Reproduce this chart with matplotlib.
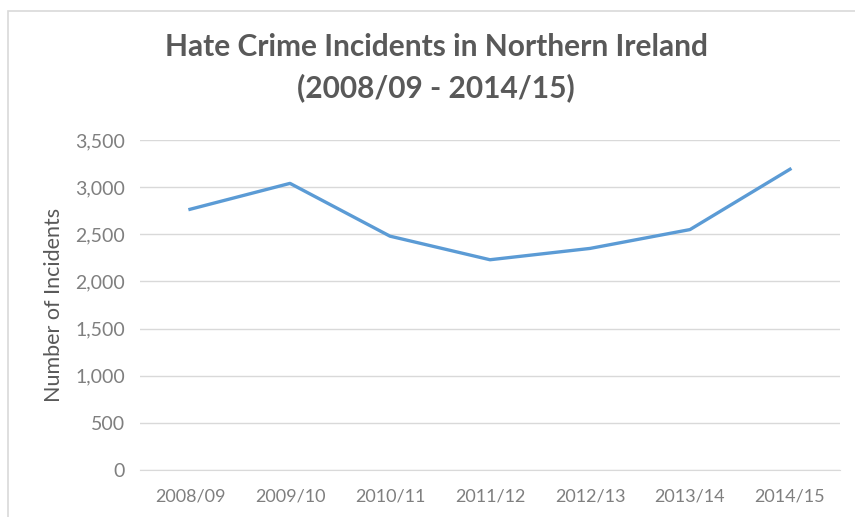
import matplotlib as mpl
mpl.use('Agg')

import matplotlib.pyplot as plt
from matplotlib.ticker import FuncFormatter, MultipleLocator
from matplotlib.patches import Rectangle

# Data
years = ['2008/09', '2009/10', '2010/11', '2011/12', '2012/13', '2013/14', '2014/15']
incidents = [2765, 3040, 2480, 2230, 2350, 2550, 3190]

line_color = '#5B9BD5'
text_color = '#595959'
tick_color = '#7F7F7F'
grid_color = '#D9D9D9'

plt.rcParams['font.family'] = ['Lato', 'DejaVu Sans']

fig = plt.figure(figsize=(8.55, 5.17), dpi=100)
ax = fig.add_axes([140 / 855, 1 - 470 / 517, 700 / 855, 330 / 517])

x = range(len(years))
ax.plot(x, incidents, color=line_color, linewidth=2.4, solid_joinstyle='round')

ax.set_xlim(-0.5, len(years) - 0.5)
ax.set_ylim(0, 3500)
ax.yaxis.set_major_locator(MultipleLocator(500))
ax.yaxis.set_major_formatter(FuncFormatter(lambda v, p: '{:,.0f}'.format(v)))
ax.set_xticks(list(x))
ax.set_xticklabels(years)

ax.grid(axis='y', color=grid_color, linewidth=1)
ax.set_axisbelow(True)
for side in ['top', 'right', 'left']:
    ax.spines[side].set_visible(False)
ax.spines['bottom'].set_color(grid_color)
ax.tick_params(axis='both', length=0, colors=tick_color)
ax.tick_params(axis='x', pad=13, labelsize=13)
ax.tick_params(axis='y', pad=11, labelsize=14)

ax.set_ylabel('Number of Incidents', color=text_color, fontsize=15.5, labelpad=8)

# two-line title
fig.text(436 / 855, 1 - 47 / 517, 'Hate Crime Incidents in Northern Ireland',
         ha='center', va='center', fontsize=21.5, fontweight='bold', color=text_color)
fig.text(436 / 855, 1 - 88 / 517, '(2008/09 - 2014/15)',
         ha='center', va='center', fontsize=21.5, fontweight='bold', color=text_color)

# light frame around the chart area (top and left edges visible in the original)
fig.add_artist(Rectangle((8 / 855, -0.05), 1.2, 1 - 11 / 517 + 0.05,
                         transform=fig.transFigure, fill=False,
                         edgecolor='#D9D9D9', linewidth=1.2))

fig.savefig('out.png', dpi=100, facecolor='white')
